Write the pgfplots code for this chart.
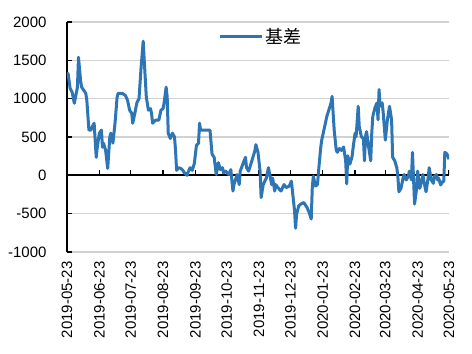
\documentclass[border=0pt]{standalone}
\usepackage{fontspec}
\setmainfont{Liberation Sans}
\newfontfamily\cjk{Noto Sans CJK SC}
\usepackage{pgfplots}
\usepackage{pgfplotstable}
\pgfplotsset{compat=1.18}
\definecolor{lineblue}{RGB}{46,117,182}

\pgfplotstableread{
day val
0 1330
1 1330
3 1135
5 1080
7 940
9 1080
10 1150
11 1540
13 1240
14 1150
18 1070
19 980
21 590
23 590
24 630
26 680
28 235
29 365
31 550
33 590
34 365
35 420
37 325
39 90
41 500
42 550
44 420
46 680
48 1020
49 1070
53 1070
56 1040
58 980
60 850
62 810
63 680
65 810
67 950
69 1000
71 1410
73 1750
74 1500
76 1020
78 850
80 870
81 810
82 680
85 720
88 720
90 850
92 870
93 940
95 1150
96 1020
97 550
99 480
101 550
103 500
104 325
105 65
107 100
109 90
111 65
112 40
115 0
116 40
118 100
120 65
122 155
124 390
126 420
127 680
128 590
137 590
139 275
141 235
143 10
145 165
147 75
149 100
150 30
152 55
155 10
157 75
159 -205
160 -120
161 -75
163 10
165 -120
166 55
169 165
171 235
172 100
174 55
176 140
178 230
180 320
181 400
183 300
185 55
186 -290
188 -120
191 -35
193 100
195 -35
196 -120
197 -35
199 -205
200 -120
202 -160
205 -205
208 -120
210 -160
213 -140
215 -75
216 -205
218 -460
219 -690
220 -505
222 -400
224 -375
227 -355
229 -400
230 -420
232 -485
234 -570
235 -160
236 -10
238 -140
240 -120
241 50
243 350
244 455
249 770
253 945
254 1030
256 590
258 325
259 300
261 350
263 325
264 345
265 370
267 190
268 -110
269 255
271 145
273 235
274 345
276 550
277 505
279 900
280 640
282 505
284 480
285 190
286 505
287 570
289 370
291 190
292 550
293 770
295 880
297 945
298 725
299 1120
300 900
302 945
303 810
305 460
307 725
308 810
309 900
311 725
312 235
314 190
316 100
317 -15
318 -215
320 -170
322 -35
323 10
325 -60
327 -15
328 55
330 -60
331 300
332 -35
333 -375
335 -170
336 55
338 -170
340 -60
341 10
342 -80
344 -215
346 -35
347 100
349 -60
351 -105
352 -15
354 10
355 -60
356 -35
358 -125
360 -80
361 -80
362 300
364 280
366 210
}\basis

\begin{document}
\begin{tikzpicture}
\begin{axis}[
  name=ax,
  scale only axis, width=382pt, height=230pt,
  xmin=0, xmax=366, ymin=-1000, ymax=2000,
  axis lines*=left,
  x axis line style={draw=none},
  y axis line style={black, line width=1.5pt},
  ytick={-1000,-500,...,2000},
  ymajorgrids, grid style={gray!35, line width=1.2pt},
  tick align=inside, major tick length=5pt,
  ytick style={black, line width=1.5pt},
  xtick={0,31,61,92,123,153,184,214,245,276,305,336,366},
  xticklabels={2019-05-23,2019-06-23,2019-07-23,2019-08-23,2019-09-23,2019-10-23,2019-11-23,2019-12-23,2020-01-23,2020-02-23,2020-03-23,2020-04-23,2020-05-23},
  xtick style={draw=none},
  xticklabel style={rotate=90, anchor=east, font=\fontsize{15}{17}\selectfont},
  xticklabel shift=6pt,
  yticklabel style={font=\fontsize{15}{17}\selectfont},
  yticklabel shift=17pt,
  /pgf/number format/assume math mode=true,
  /pgf/number format/1000 sep={},
  legend style={draw=none, fill=none, at={(0.509,0.935)}, anchor=center,
    font=\cjk\fontsize{18}{20}\selectfont},
  legend image code/.code={\draw[#1, line width=3pt] (0pt,0pt) -- (42pt,0pt);},
]
\draw[black, line width=1.8pt] (axis cs:0,0) -- (axis cs:366,0);
\pgfplotsinvokeforeach{31,61,92,123,153,184,214,245,276,305,336,366}{
  \draw[black, line width=1.2pt] (axis cs:#1,0) -- ([yshift=5pt]axis cs:#1,0);
}
\addplot[lineblue, line width=3pt, line join=round, mark=none] table[x=day, y=val] {\basis};
\addlegendentry{基差}
\end{axis}
\pgfresetboundingbox
\path[use as bounding box] ([shift={(-67pt,-102pt)}]ax.south west) rectangle ([shift={(405pt,252pt)}]ax.south west);
\end{tikzpicture}
\end{document}
